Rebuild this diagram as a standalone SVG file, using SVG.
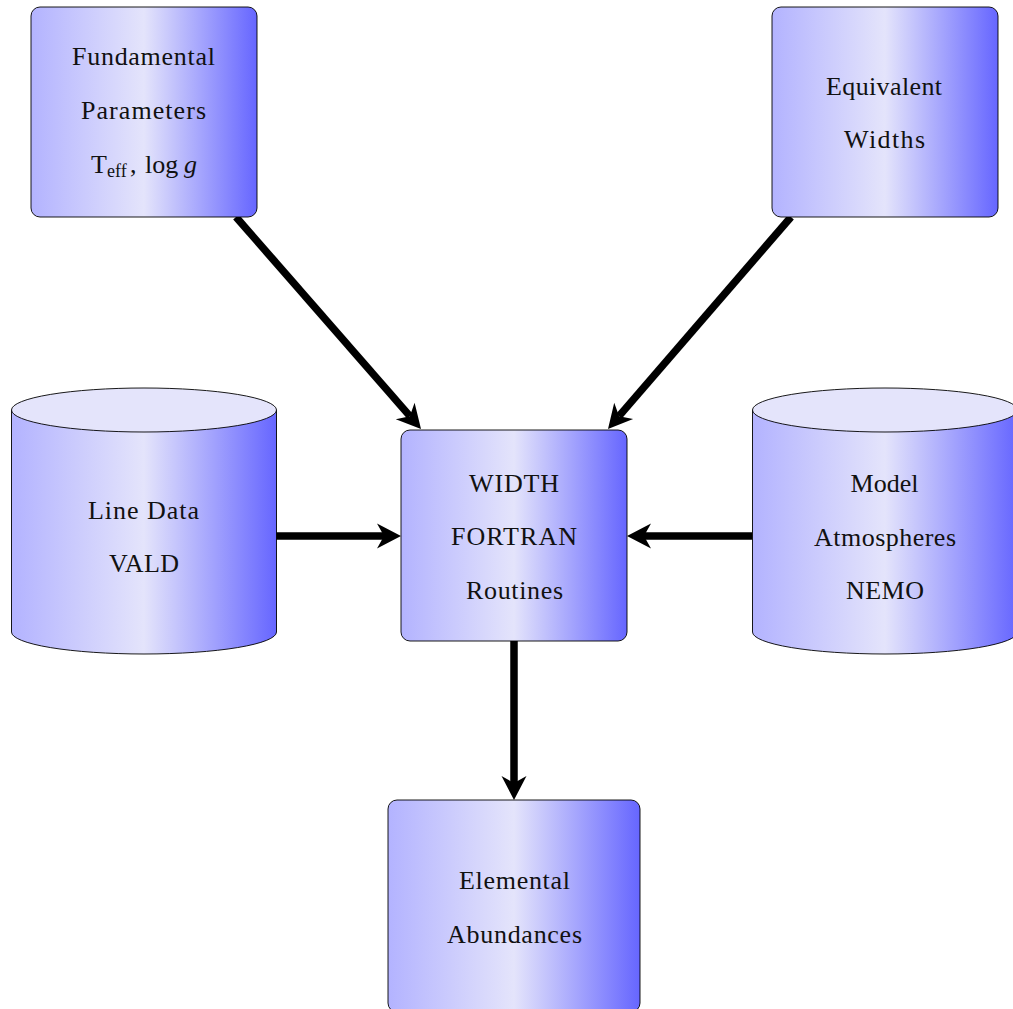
<svg xmlns="http://www.w3.org/2000/svg" xmlns:xlink="http://www.w3.org/1999/xlink" width="1013" height="1009" viewBox="0 0 1013 1009">
<style>
.box{fill:url(#g);stroke:#000;stroke-width:0.9}
.top{fill:#e4e4fb;stroke:#000;stroke-width:0.9}
.t{font-family:"Liberation Serif","Times New Roman",serif;font-size:26px;fill:#111;text-anchor:middle}
.ts{font-family:"Liberation Serif","Times New Roman",serif;font-size:26px;fill:#111}
.c{stroke:#000;stroke-width:7.5;fill:none}
</style>
<defs>
<linearGradient id="g" x1="0" y1="0" x2="1" y2="0">
<stop offset="0" stop-color="#b3b3ff"/>
<stop offset="0.5" stop-color="#e4e4fb"/>
<stop offset="1" stop-color="#6666ff"/>
</linearGradient>
<path id="ah" d="M0,0 L-24,-12.5 L-17,0 L-24,12.5 Z" fill="#000"/>
</defs>
<rect width="1013" height="1009" fill="#fff"/>

<g id="connectors">
<line class="c" x1="236" y1="217" x2="409.9" y2="416.1"/>
<use xlink:href="#ah" transform="translate(421,429) rotate(48.8)"/>
<line class="c" x1="791" y1="217" x2="619" y2="416.1"/>
<use xlink:href="#ah" transform="translate(608,429) rotate(130.8)"/>
<line class="c" x1="276" y1="536" x2="384" y2="536"/>
<use xlink:href="#ah" transform="translate(401,536)"/>
<line class="c" x1="752" y1="536" x2="644" y2="536"/>
<use xlink:href="#ah" transform="translate(627,536) rotate(180)"/>
<line class="c" x1="514" y1="641" x2="514" y2="783"/>
<use xlink:href="#ah" transform="translate(514,800) rotate(90)"/>
</g>

<g id="fundamental">
<rect class="box" x="31" y="7" width="226" height="210" rx="9"/>
<text class="t" x="143.5" y="65" textLength="143" lengthAdjust="spacing">Fundamental</text>
<text class="t" x="143.5" y="119" textLength="125" lengthAdjust="spacing">Parameters</text>
<text class="ts" y="173"><tspan x="91">T</tspan><tspan x="107" dy="4" font-size="18">eff</tspan><tspan x="130" dy="-4">,</tspan><tspan x="145">log</tspan><tspan x="184" font-style="italic">g</tspan></text>
</g>

<g id="equivalent">
<rect class="box" x="772" y="7" width="226" height="210" rx="9"/>
<text class="t" x="884" y="95" textLength="116" lengthAdjust="spacing">Equivalent</text>
<text class="t" x="884.5" y="148" textLength="81" lengthAdjust="spacing">Widths</text>
</g>

<g id="linedata">
<path class="box" d="M11.5,410 L11.5,632 A132.5,22 0 0 0 276.5,632 L276.5,410 Z"/>
<ellipse class="top" cx="144" cy="410" rx="132.5" ry="22"/>
<text class="t" x="143.5" y="519" textLength="111" lengthAdjust="spacing">Line Data</text>
<text class="t" x="144" y="572" textLength="70" lengthAdjust="spacing">VALD</text>
</g>

<g id="width">
<rect class="box" x="401" y="430" width="226" height="211" rx="9"/>
<text class="t" x="514" y="492" textLength="90" lengthAdjust="spacing">WIDTH</text>
<text class="t" x="514" y="545" textLength="126" lengthAdjust="spacing">FORTRAN</text>
<text class="t" x="514.5" y="599" textLength="97" lengthAdjust="spacing">Routines</text>
</g>

<g id="model">
<path class="box" d="M752.5,410 L752.5,632 A132.5,22 0 0 0 1017.5,632 L1017.5,410 Z"/>
<ellipse class="top" cx="885" cy="410" rx="132.5" ry="22"/>
<text class="t" x="884.5" y="492" textLength="68" lengthAdjust="spacing">Model</text>
<text class="t" x="885" y="546" textLength="142" lengthAdjust="spacing">Atmospheres</text>
<text class="t" x="885" y="599" textLength="78" lengthAdjust="spacing">NEMO</text>
</g>

<g id="elemental">
<rect class="box" x="388" y="800" width="252" height="212" rx="9"/>
<text class="t" x="514.5" y="889" textLength="111" lengthAdjust="spacing">Elemental</text>
<text class="t" x="514.5" y="943" textLength="135" lengthAdjust="spacing">Abundances</text>
</g>
</svg>
